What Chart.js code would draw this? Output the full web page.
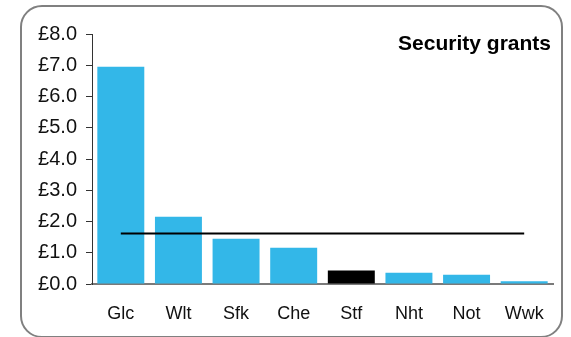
<!DOCTYPE html>
<html>
<head>
  <meta charset="UTF-8">
  <title>Security grants</title>
  <script src="https://cdn.jsdelivr.net/npm/chart.js"></script>
  <style>
    body {
      margin: 0;
      background: white;
      font-family: 'Liberation Sans', Arial, sans-serif;
    }
    .frame {
      position: absolute;
      left: 20px;
      top: 5px;
      width: 539px;
      height: 329px;
      border: 2px solid #808080;
      border-radius: 22px;
    }
    .wrap {
      position: absolute;
      left: 0;
      top: 0;
      width: 571px;
      height: 337px;
    }
  </style>
</head>
<body>
  <div class="frame"></div>
  <div class="wrap"><canvas id="chart"></canvas></div>

  <script>
    const labels = ['Glc', 'Wlt', 'Sfk', 'Che', 'Stf', 'Nht', 'Not', 'Wwk'];
    const grants = [6.95, 2.15, 1.45, 1.16, 0.43, 0.36, 0.30, 0.09];
    const average = [1.62, 1.62, 1.62, 1.62, 1.62, 1.62, 1.62, 1.62];
    const highlight = 'Stf';
    const yTicks = [0, 1, 2, 3, 4, 5, 6, 7, 8];

    const blue = '#33b7e8';
    const barColors = labels.map(l => l === highlight ? '#000000' : blue);

    const titlePlugin = {
      id: 'cornerTitle',
      afterDraw(chart) {
        const c = chart.ctx;
        c.save();
        c.font = 'bold 21px "Liberation Sans", Arial, sans-serif';
        c.fillStyle = '#000';
        c.textAlign = 'right';
        c.textBaseline = 'middle';
        c.fillText('Security grants', 551, 44);
        c.restore();
      }
    };

    const ctx = document.getElementById('chart').getContext('2d');
    new Chart(ctx, {
      data: {
        labels: labels,
        datasets: [{
          type: 'line',
          data: average,
          borderColor: '#000',
          borderWidth: 2,
          pointRadius: 0,
          order: 0
        }, {
          type: 'bar',
          data: grants,
          backgroundColor: barColors,
          categoryPercentage: 0.815,
          barPercentage: 1,
          order: 1
        }]
      },
      options: {
        responsive: true,
        maintainAspectRatio: false,
        animation: false,
        layout: { padding: { left: 20, right: 18, top: 34, bottom: 0 } },
        plugins: {
          legend: { display: false },
          tooltip: { enabled: false }
        },
        scales: {
          x: {
            afterFit: s => { s.height = 53; },
            grid: { display: false, drawTicks: false },
            border: { color: '#7a7a7a', width: 2 },
            ticks: {
              color: '#111',
              padding: 19,
              font: { size: 18, family: '"Liberation Sans", Arial, sans-serif' }
            }
          },
          y: {
            min: 0,
            max: 8,
            afterFit: s => { s.width = 72; },
            afterBuildTicks: s => { s.ticks = yTicks.map(v => ({ value: v })); },
            grid: { drawOnChartArea: false, tickLength: 6, color: '#333' },
            border: { color: '#333', width: 1 },
            ticks: {
              color: '#111',
              padding: 9,
              callback: v => '£' + v.toFixed(1),
              font: { size: 20, family: '"Liberation Sans", Arial, sans-serif' }
            }
          }
        }
      },
      plugins: [titlePlugin]
    });
  </script>
</body>
</html>
